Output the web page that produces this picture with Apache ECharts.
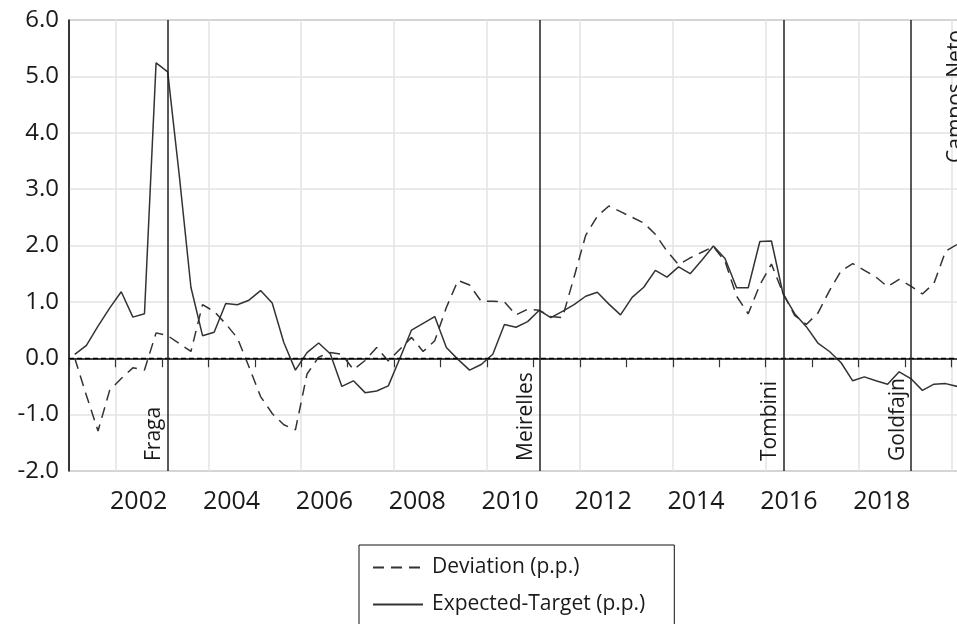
<!DOCTYPE html>
<html>
<head>
<meta charset="utf-8">
<script src="https://cdn.jsdelivr.net/npm/echarts@6/dist/echarts.min.js"></script>
<style>
html,body{margin:0;padding:0;background:#fff;}
#chart{width:957px;height:624px;}
</style>
</head>
<body>
<div id="chart"></div>
<script>
// Quarterly observations, 2001Q1 .. 2020Q1
const startYear = 2001;
const deviation = [
  0.00, -0.66, -1.29, -0.57, -0.36, -0.17, -0.21, 0.45, 0.40, 0.26,
  0.12, 0.95, 0.83, 0.61, 0.36, -0.15, -0.68, -0.98, -1.18, -1.27,
  -0.28, 0.02, 0.10, 0.07, -0.20, -0.04, 0.19, -0.05, 0.16, 0.37,
  0.12, 0.31, 0.90, 1.38, 1.30, 1.01, 1.01, 1.00, 0.77, 0.87,
  0.85, 0.74, 0.72, 1.44, 2.18, 2.52, 2.70, 2.60, 2.50, 2.40,
  2.20, 1.90, 1.66, 1.78, 1.88, 1.98, 1.72, 1.10, 0.79, 1.30,
  1.67, 1.15, 0.76, 0.60, 0.80, 1.20, 1.55, 1.68, 1.56, 1.44,
  1.27, 1.40, 1.28, 1.14, 1.33, 1.90, 2.02
];
const expectedTarget = [
  0.07, 0.23, 0.57, 0.89, 1.18, 0.73, 0.79, 5.24, 5.08, 3.24,
  1.26, 0.40, 0.46, 0.97, 0.95, 1.03, 1.20, 0.98, 0.28, -0.21,
  0.10, 0.27, 0.08, -0.50, -0.40, -0.61, -0.58, -0.49, 0.00, 0.50,
  0.62, 0.74, 0.19, -0.02, -0.21, -0.11, 0.07, 0.60, 0.55, 0.65,
  0.85, 0.72, 0.83, 0.95, 1.10, 1.17, 0.96, 0.77, 1.08, 1.26,
  1.56, 1.44, 1.62, 1.50, 1.74, 1.99, 1.77, 1.25, 1.25, 2.07,
  2.08, 1.14, 0.79, 0.56, 0.27, 0.12, -0.08, -0.40, -0.33, -0.40,
  -0.46, -0.24, -0.36, -0.57, -0.46, -0.45, -0.50
];
const governors = ['Fraga', 'Meirelles', 'Tombini', 'Goldfajn', 'Campos Neto'];
const governorEnds = ['2003Q1', '2011Q1', '2016Q2', '2019Q1', null];
const yTicks = [-2, -1, 0, 1, 2, 3, 4, 5, 6];
const xLabelYears = [2002, 2004, 2006, 2008, 2010, 2012, 2014, 2016, 2018];
const gridYears = [2002, 2004, 2006, 2008, 2010, 2012, 2014, 2016, 2018, 2020];
const seriesNames = ['Deviation (p.p.)', 'Expected-Target (p.p.)'];

const xMin = 2001, xMax = 2020.4;
function qPos(i) { return startYear + i * 0.25 + 0.125; }
function qStr(s) { const y = +s.slice(0, 4), q = +s.slice(5); return y + (q - 1) / 4 + 0.125; }

const devData = deviation.map((v, i) => [qPos(i), v]);
const expData = expectedTarget.map((v, i) => [qPos(i), v]);

const FONT = 'Open Sans';
const TXT = '#1a1a1a';

const vLines = governors.map((g, k) => {
  const isLast = governorEnds[k] === null;
  return {
    xAxis: isLast ? xMax : qStr(governorEnds[k]),
    name: g,
    lineStyle: { type: 'solid', color: '#222', width: 1.5 },
    label: {
      show: true, formatter: '{b}', position: isLast ? 'insideEndTop' : 'insideStartTop',
      fontFamily: FONT, fontSize: 21, color: TXT, distance: [10, 3]
    }
  };
});

const chart = echarts.init(document.getElementById('chart'), null, { renderer: 'canvas' });
chart.setOption({
  animation: false,
  backgroundColor: '#fff',
  textStyle: { fontFamily: FONT },
  grid: { left: 69, top: 20, right: -13, bottom: 153, show: true, borderColor: '#555', borderWidth: 1,
    containLabel: false, outerBoundsMode: 'none' },
  legend: {
    orient: 'vertical', left: 359, top: 545, height: 110,
    data: seriesNames,
    borderColor: '#111', borderWidth: 1,
    padding: [12, 29, 30, 13],
    itemWidth: 50, itemHeight: 24, itemGap: 16,
    itemStyle: { opacity: 0 },
    textStyle: { fontFamily: FONT, fontSize: 21, color: TXT, padding: [0, 0, 0, 4] }
  },
  xAxis: [{
    type: 'value', min: xMin, max: xMax, interval: 1,
    axisLine: { show: true, lineStyle: { color: '#111', width: 1.5 } },
    axisTick: { show: true, length: 9, lineStyle: { color: '#333', width: 1.2 } },
    axisLabel: {
      customValues: xLabelYears.map(y => y + 0.5),
      formatter: v => String(Math.floor(v)),
      fontFamily: FONT, fontSize: 25, color: TXT, margin: 18
    },
    splitLine: { show: false }
  }, {
    type: 'value', min: xMin, max: xMax, position: 'bottom',
    axisLine: { show: false },
    axisTick: { show: false, customValues: gridYears },
    axisLabel: { show: false },
    splitLine: { show: true, lineStyle: { color: '#e3e3e3', width: 1.5 } }
  }],
  yAxis: {
    type: 'value', min: -2, max: 6, interval: 1,
    axisLine: { show: true, lineStyle: { color: '#111', width: 1.5 } },
    axisTick: { show: false },
    axisLabel: { formatter: v => v.toFixed(1), fontFamily: FONT, fontSize: 24, color: TXT, margin: 10,
      customValues: yTicks },
    splitLine: { show: true, lineStyle: { color: '#e3e3e3', width: 1.5 } }
  },
  series: [{
    name: seriesNames[0], type: 'line', data: devData, symbol: 'none',
    lineStyle: { color: '#333', width: 1.5, type: [11, 7] },
    itemStyle: { color: '#333' },
    z: 3,
    markLine: {
      silent: true, symbol: 'none', animation: false,
      data: [
        { yAxis: 0, name: '', lineStyle: { type: [5, 3], color: '#000', width: 1.3 }, label: { show: false } },
        ...vLines
      ]
    }
  }, {
    name: seriesNames[1], type: 'line', data: expData, symbol: 'none',
    lineStyle: { color: '#333', width: 1.5, type: 'solid' },
    itemStyle: { color: '#333' },
    z: 4
  }]
});
</script>
</body>
</html>
